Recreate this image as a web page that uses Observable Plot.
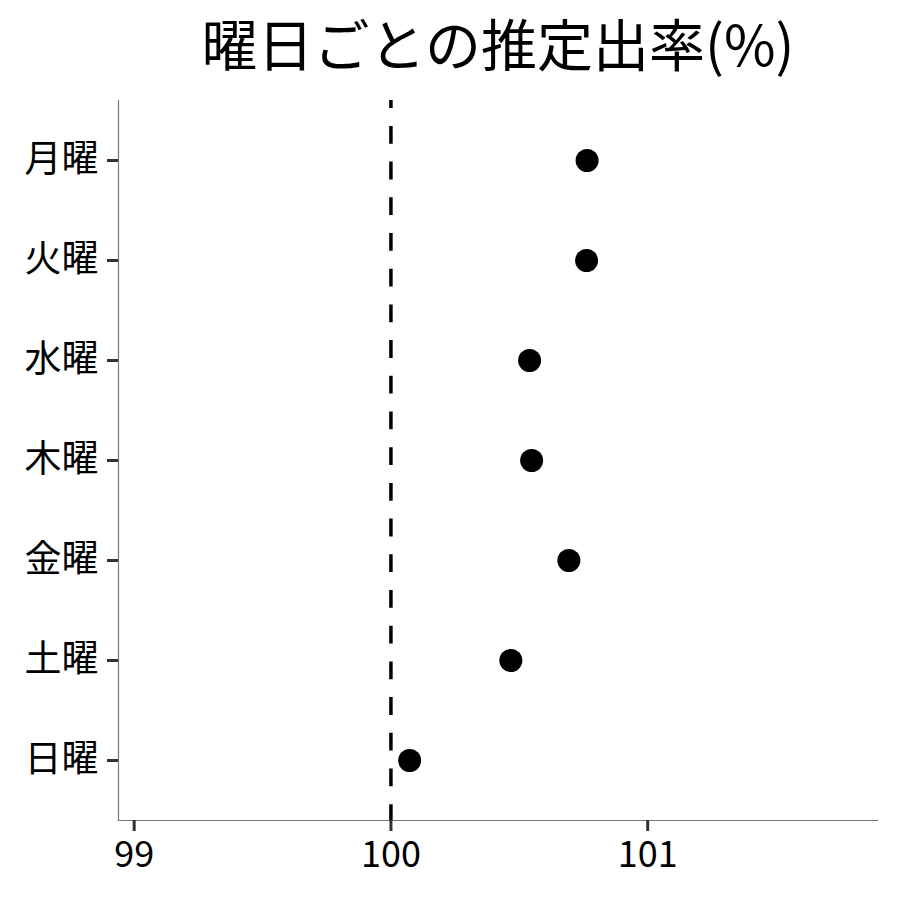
<!DOCTYPE html>
<html>
<head>
<meta charset="utf-8">
<script src="https://cdn.jsdelivr.net/npm/d3@7"></script>
<script src="https://cdn.jsdelivr.net/npm/@observablehq/plot@0.6"></script>
<style>
  html, body { margin: 0; padding: 0; background: #fff; }
  #chart { width: 900px; height: 900px; }
  svg { font-family: "Noto Sans CJK JP", "Noto Sans", sans-serif; }
</style>
</head>
<body>
<div id="chart"></div>
<script>
const title = "曜日ごとの推定出率(%)";
const days = ["月曜", "火曜", "水曜", "木曜", "金曜", "土曜", "日曜"];
const rates = [100.764, 100.762, 100.540, 100.548, 100.693, 100.467, 100.073];
const xTicks = [99, 100, 101];
const xDomain = [98.939, 101.895];
const reference = [100];

const data = days.map((d, i) => ({day: d, rate: rates[i]}));

const chart = Plot.plot({
  width: 900,
  height: 900,
  marginLeft: 118,
  marginRight: 23,
  marginTop: 100,
  marginBottom: 80,
  style: {fontFamily: '"Noto Sans CJK JP", sans-serif', background: "#fff"},
  x: {domain: xDomain, axis: null, label: null},
  y: {type: "point", domain: days, padding: 0.6, axis: null, label: null},
  marks: [
    Plot.frame({anchor: "left", stroke: "#777", strokeWidth: 1.2}),
    Plot.frame({anchor: "bottom", stroke: "#777", strokeWidth: 1.2}),
    Plot.axisX(xTicks, {tickSize: 11, tickPadding: 10, stroke: "#333", strokeWidth: 3, fill: "#000", fontSize: 36, tickFormat: d3.format("d"), label: null}),
    Plot.axisY(days, {tickSize: 11, tickPadding: 9, stroke: "#333", strokeWidth: 3, fill: "#000", fontSize: 37, label: null}),
    Plot.ruleX(reference, {stroke: "#000", strokeWidth: 3.5, strokeDasharray: "17.8,17.9", strokeDashoffset: 9.8}),
    Plot.dot(data, {x: "rate", y: "day", r: 11.5, fill: "#000", stroke: "none"}),
    Plot.text([title], {frameAnchor: "top", dy: -74, fontSize: 56, fill: "#000"})
  ]
});
document.getElementById("chart").appendChild(chart);
</script>
</body>
</html>
